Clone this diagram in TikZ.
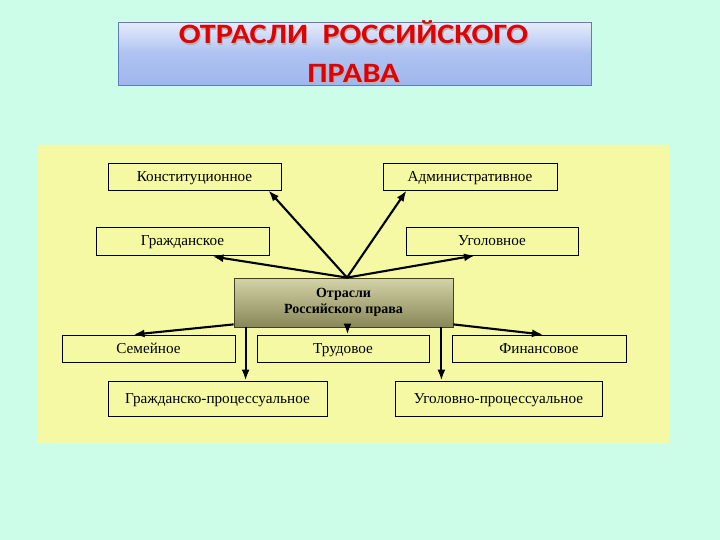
\documentclass[tikz,border=0pt]{standalone}
\usepackage{fontspec}
\setmainfont{Liberation Serif}
\newfontfamily\titlefont{Carlito}
\usetikzlibrary{arrows.meta,calc}
\definecolor{bgmint}{RGB}{204,253,232}
\definecolor{panelyel}{RGB}{245,249,163}
\definecolor{titlered}{RGB}{225,0,0}
\definecolor{titleborder}{RGB}{95,125,185}
\definecolor{titletop}{RGB}{232,236,252}
\definecolor{titlemid}{RGB}{160,183,238}
\definecolor{ctrtop}{RGB}{212,212,168}
\definecolor{ctrbot}{RGB}{135,135,88}
\tikzset{
  lawbox/.style={draw=black, line width=0.9pt, fill=panelyel, inner sep=0pt,
    font=\fontsize{15.2}{17}\selectfont, text=black, text height=12.6pt, text depth=2.8pt},
  arr/.style={line width=2.1pt, -{Latex[length=11pt,width=8pt]}},
  ttl/.style={font=\titlefont\bfseries\fontsize{28}{36}\selectfont}
}
\newcommand{\wide}[1]{\scalebox{1.15}[1]{#1}}
\begin{document}
\begin{tikzpicture}[x=1pt,y=-1pt]
\useasboundingbox (0,0) rectangle (720,540);
\fill[bgmint] (0,0) rectangle (720,540);
% title
\shade[top color=titletop, bottom color=titlemid, middle color=titlemid!85!white, shading angle=0]
  (118,22) rectangle (591,85);
\draw[titleborder, line width=0.8pt] (118,22) rectangle (591,85);
\node[ttl, text=black!30, anchor=base] at (354.5,45.2) {\wide{ОТРАСЛИ~~РОССИЙСКОГО}};
\node[ttl, text=black!30, anchor=base] at (354.5,84.2) {\wide{ПРАВА}};
\node (title1)[ttl, text=titlered, anchor=base] at (353.5,44) {\wide{ОТРАСЛИ~~РОССИЙСКОГО}};
\node (title2)[ttl, text=titlered, anchor=base] at (353.5,83) {\wide{ПРАВА}};
% panel
\fill[panelyel] (38,145) rectangle (669,443);
% boxes
\node[lawbox, minimum width=173pt, minimum height=27pt] (konst) at (194.5,176.5) {Конституционное};
\node[lawbox, minimum width=174pt, minimum height=27pt] (admin) at (470,176.5) {Административное};
\node[lawbox, minimum width=173pt, minimum height=28pt] (grazh) at (182.5,241) {Гражданское};
\node[lawbox, minimum width=172pt, minimum height=28pt] (ugol) at (492,241) {Уголовное};
\node[draw=black!70!olive, line width=0.8pt, top color=ctrtop, bottom color=ctrbot,
      minimum width=219pt, minimum height=49pt, inner sep=0pt, align=center,
      font=\bfseries\fontsize{14}{16.5}\selectfont] (ctr) at (343.5,302.5)
      {Отрасли\\Российского права};
\node[lawbox, minimum width=173pt, minimum height=27pt] (sem) at (148.5,348.5) {Семейное};
\node[lawbox, minimum width=172pt, minimum height=27pt] (trud) at (343,348.5) {Трудовое};
\node[lawbox, minimum width=174pt, minimum height=27pt] (fin) at (539,348.5) {Финансовое};
\node[lawbox, minimum width=219pt, minimum height=35pt] (gpr) at (217.5,398.5) {Гражданско-процессуальное};
\node[lawbox, minimum width=207pt, minimum height=35pt] (upr) at (498.5,398.5) {Уголовно-процессуальное};
% arrows up
\coordinate (hub) at ([xshift=3.5pt]ctr.north);
\draw[arr] (hub) -- ([xshift=-13pt]konst.south east);
\draw[arr] (hub) -- ([xshift=24pt]admin.south west);
\draw[arr] (hub) -- ([xshift=30pt,yshift=-1pt]grazh.south);
\draw[arr] (hub) -- ([xshift=-17pt]ugol.south);
% arrows down
\draw[arr] ([yshift=3pt]ctr.south west) -- ([xshift=-15pt]sem.north);
\coordinate (gl) at ([xshift=12pt]ctr.south west);
\draw[arr] (gl) -- (gl |- gpr.north);
\draw[arr] ([xshift=4pt]ctr.south) -- ([xshift=4.5pt]trud.north);
\coordinate (ur) at ([xshift=-12pt]ctr.south east);
\draw[arr] (ur) -- (ur |- upr.north);
\draw[arr] ([yshift=3pt]ctr.south east) -- ([xshift=4pt]fin.north);
\end{tikzpicture}
\end{document}
